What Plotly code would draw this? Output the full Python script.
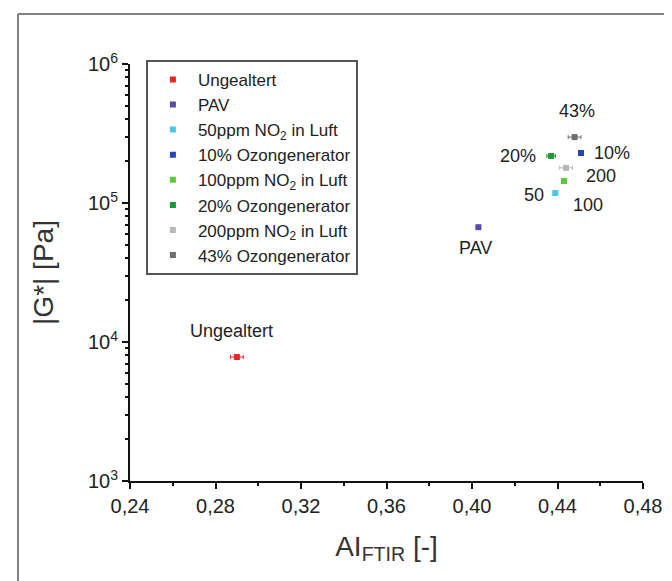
import math
import plotly.graph_objects as go

names = ["Ungealtert", "PAV", "50ppm NO<sub>2</sub> in Luft", "10% Ozongenerator",
         "100ppm NO<sub>2</sub> in Luft", "20% Ozongenerator", "200ppm NO<sub>2</sub> in Luft",
         "43% Ozongenerator"]
ai_ftir = [0.290, 0.403, 0.439, 0.451, 0.443, 0.437, 0.444, 0.448]
ai_err = [0.003, 0.001, 0.001, 0.001, 0.001, 0.002, 0.003, 0.003]
g_star = [7800, 67000, 118000, 229000, 144000, 218000, 179000, 298000]
labels = ["Ungealtert", "PAV", "50", "10%", "100", "20%", "200", "43%"]
colors = ["#e8262a", "#5a4aa8", "#4cc6e2", "#2846b0", "#5cc83c", "#1c9a3a", "#b8b8b8", "#6e6e6e"]
label_shift = [(-5, 26), (-3, -21), (-21, -2), (31, 0), (24, -24), (-33, 0), (35, -8), (2, 26)]

x_ticks = [0.24, 0.28, 0.32, 0.36, 0.40, 0.44, 0.48]
y_ticks = [1e3, 1e4, 1e5, 1e6]
y_ticktext = ["10<sup>3</sup>", "10<sup>4</sup>", "10<sup>5</sup>", "10<sup>6</sup>"]

fig = go.Figure()
for n, x, ex, y, c in zip(names, ai_ftir, ai_err, g_star, colors):
    fig.add_trace(go.Scatter(
        x=[x], y=[y], name=n, mode="markers",
        marker=dict(symbol="square", size=6, color=c),
        error_x=dict(type="data", array=[ex], color=c, thickness=1, width=2),
    ))

for x, y, t, (dx, dy) in zip(ai_ftir, g_star, labels, label_shift):
    fig.add_annotation(x=x, y=math.log10(y), yref="y", xref="x", text=t, showarrow=False,
                       xshift=dx, yshift=dy, font=dict(size=18, color="#222"))

minor_vals = [m * 10 ** e for e in range(3, 6) for m in range(2, 10)]

fig.update_layout(
    width=672, height=581,
    margin=dict(l=122, r=37, t=56, b=108),
    paper_bgcolor="white", plot_bgcolor="white",
    separators=",.",
    font=dict(family="Liberation Sans, Arial, sans-serif", color="#222"),
    showlegend=True,
    legend=dict(x=0.031, y=1.01, xanchor="left", yanchor="top",
                bordercolor="#555", borderwidth=2, bgcolor="white",
                font=dict(size=17, color="#222"), tracegroupgap=0,
                itemwidth=40),
    xaxis=dict(range=[0.24, 0.48], tickvals=x_ticks, tickformat=".2f",
               showgrid=False, zeroline=False, showline=True, linecolor="#111",
               linewidth=2, ticks="outside", ticklen=6, tickwidth=2, tickcolor="#111",
               tickfont=dict(size=20, color="#222"),
               minor=dict(ticks="outside", ticklen=3, tickwidth=2, tickcolor="#111",
                          tickvals=[0.26, 0.30, 0.34, 0.38, 0.42, 0.46], showgrid=False),
               title=dict(text="AI<sub>FTIR</sub> [-]", font=dict(size=28, color="#333"), standoff=20)),
    yaxis=dict(type="log", range=[3, 6], tickvals=y_ticks, ticktext=y_ticktext,
               showgrid=False, zeroline=False, showline=True, linecolor="#111",
               linewidth=2, ticks="outside", ticklen=6, tickwidth=2, tickcolor="#111",
               tickfont=dict(size=20, color="#222"),
               minor=dict(ticks="outside", ticklen=3, tickwidth=1.5, tickcolor="#111",
                          tickvals=minor_vals, showgrid=False),
               title=dict(text="|G*| [Pa]", font=dict(size=28, color="#333"), standoff=26)),
    shapes=[
        dict(type="line", xref="paper", yref="paper", x0=-0.2183, x1=1.1, y0=1.12, y1=1.12,
             line=dict(color="#808080", width=2)),
        dict(type="line", xref="paper", yref="paper", x0=-0.2183, x1=-0.2183, y0=1.12, y1=-0.3,
             line=dict(color="#808080", width=2)),
    ],
)

fig.write_html("out.html")
